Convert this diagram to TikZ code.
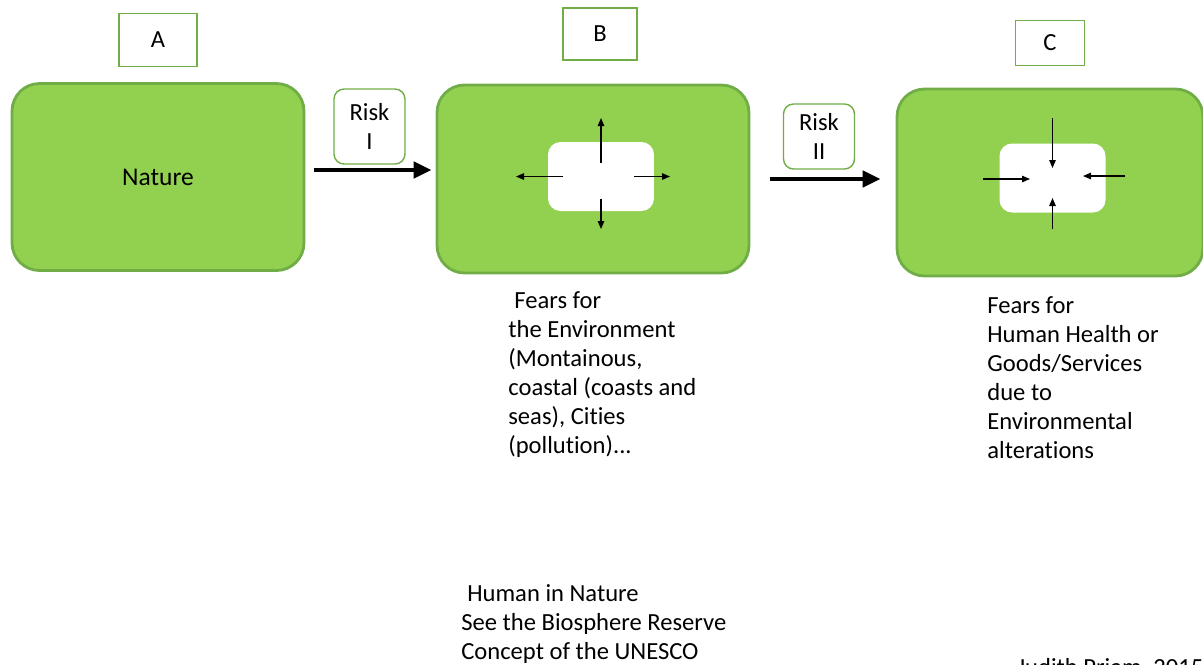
\documentclass[tikz,border=0pt]{standalone}
\usepackage{fontspec}
\setmainfont{Carlito}[Ligatures=NoCommon]
\usetikzlibrary{arrows.meta,positioning}
\definecolor{leafgreen}{RGB}{146,208,80}
\definecolor{edgegreen}{RGB}{112,173,71}

\begin{document}
\begin{tikzpicture}[x=0.02cm, y=-0.02cm,
    every node/.style={font=\fontsize{14}{16.5}\selectfont},
    stage/.style={draw=edgegreen, line width=1.6pt, fill=leafgreen, rounded corners=0.55cm, minimum width=5.84cm, minimum height=3.74cm},
    tag/.style={draw=edgegreen, line width=0.8pt, fill=white},
    risk/.style={draw=edgegreen, line width=0.8pt, fill=white, rounded corners=0.2cm, align=center, minimum width=1.42cm, font=\fontsize{14}{17}\selectfont},
    core/.style={fill=white, rounded corners=0.25cm, minimum width=2.12cm, minimum height=1.38cm},
    note/.style={anchor=north west, align=left, inner sep=0pt},
    bigarr/.style={-{Triangle[length=3.6mm,width=3.2mm]}, line width=2.8pt},
    tinyarr/.style={-{Triangle[length=1.6mm,width=1.3mm]}, line width=0.7pt}]
  \useasboundingbox (0,0) rectangle (1203,664);
  % Stages
  \node[stage, font=\fontsize{14.5}{17}\selectfont] (nature) at (158,177) {Nature};
  \node[stage, minimum width=6.24cm, minimum height=3.76cm] (envbox) at (593,179) {};
  \node[stage, minimum width=6.12cm] (healthbox) at (1050,182.5) {};
  % Letters
  \node[tag, minimum width=1.56cm, minimum height=1.06cm] (tagA) at (158,40) {A};
  \node[tag, minimum width=1.48cm, minimum height=1.04cm] (tagB) at (600,34) {B};
  \node[tag, minimum width=1.38cm, minimum height=0.9cm] (tagC) at (1050,43) {C};
  % Risks
  \node[risk, minimum height=1.5cm] (riskI) at (369.5,126.5) {Risk\\I};
  \node[risk, minimum height=1.3cm] (riskII) at (819,136.5) {Risk\\II};
  % Inner cores
  \node[core] (envcore) at (601,176.5) {};
  \node[core] (healthcore) at (1052.5,178) {};

  \draw[bigarr] ([shift={(9,-7)}]nature.east) -- ([shift={(-4,-9)}]envbox.west);
  \draw[bigarr] ([shift={(20,0)}]envbox.east) -- ([shift={(-15,-3.5)}]healthbox.west);

  % outward
  \draw[tinyarr] ([shift={(0,-13.5)}]envcore.center) -- ([shift={(0,-58.5)}]envcore.center);
  \draw[tinyarr] ([shift={(-38,0)}]envcore.center) -- ([shift={(-85,0)}]envcore.center);
  \draw[tinyarr] ([shift={(33,0)}]envcore.center) -- ([shift={(69,0)}]envcore.center);
  \draw[tinyarr] ([shift={(0,22.5)}]envcore.center) -- ([shift={(0,52.5)}]envcore.center);
  % inward
  \draw[tinyarr] ([shift={(0,-60)}]healthcore.center) -- ([shift={(0,-10)}]healthcore.center);
  \draw[tinyarr] ([shift={(-69.5,1)}]healthcore.center) -- ([shift={(-22.5,1)}]healthcore.center);
  \draw[tinyarr] ([shift={(72.5,-2)}]healthcore.center) -- ([shift={(30.5,-2)}]healthcore.center);
  \draw[tinyarr] ([shift={(0,51)}]healthcore.center) -- ([shift={(0,20)}]healthcore.center);

  % Texts
  \node[note] (envfears) at (508,291) {\hspace*{0.12cm}Fears for\\the Environment\\(Montainous,\\coastal (coasts and\\seas), Cities\\(pollution)...};
  \node[note] (healthfears) at (987,296) {Fears for\\Human Health or\\Goods/Services\\due to\\Environmental\\alterations};
  \node[note] (reserve) at (461,584) {\hspace*{0.12cm}Human in Nature\\See the Biosphere Reserve\\Concept of the UNESCO};
  \node[note] (credit) at (1017,658) {Judith Priam, 2015};
\end{tikzpicture}
\end{document}
